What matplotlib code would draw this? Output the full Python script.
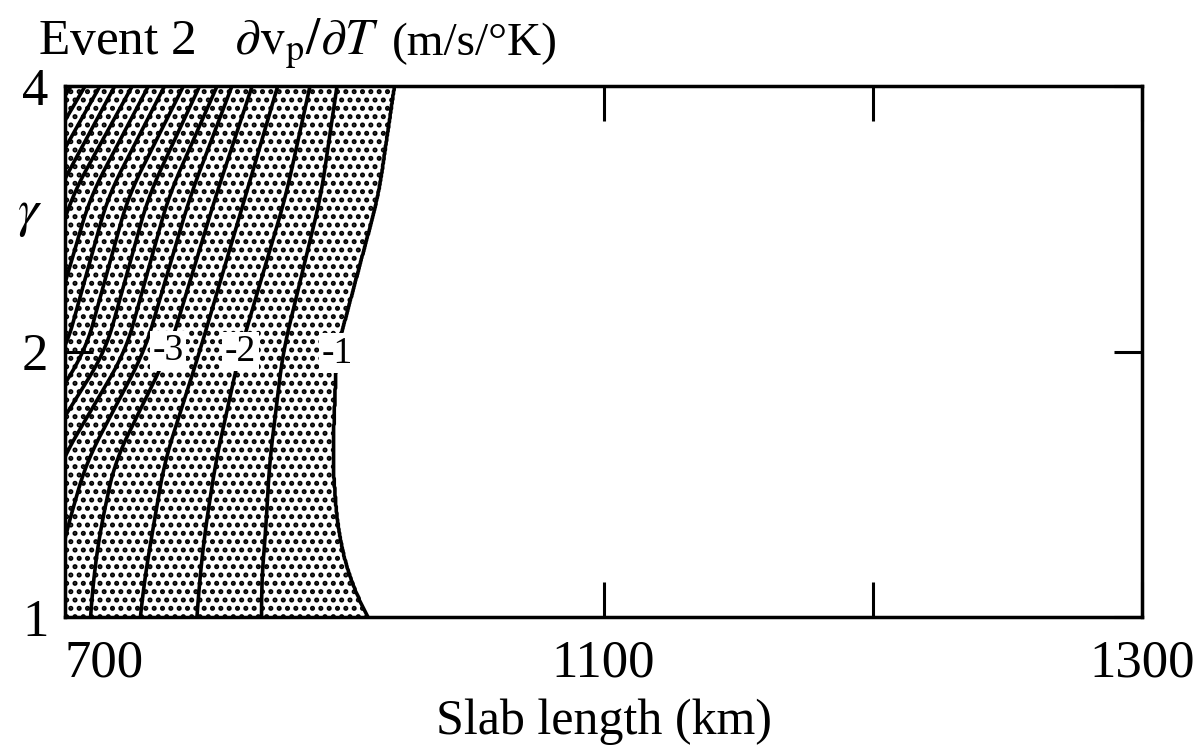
import numpy as np
import matplotlib.pyplot as plt
from matplotlib.ticker import FixedLocator, FixedFormatter, NullLocator

plt.rcParams['font.family'] = ['Liberation Serif', 'DejaVu Serif']
plt.rcParams['mathtext.fontset'] = 'stix'
plt.rcParams['hatch.linewidth'] = 2.4
plt.rcParams['hatch.color'] = 'black'

## contour levels of dVp/dT (m/s/K), lowest first
levels = [-8.5, -8.0, -7.5, -7.0, -6.5, -6.0, -5.5, -5.0,
          -4.5, -4.0, -3.5, -3.0, -2.5, -2.0, -1.5, -1.0]

## gamma values of the sampled rows
gamma_rows = [1.0, 1.1, 1.25, 1.5, 2.0, 3.0, 4.0]

## slab length (km) where each level crosses a row (same order as levels)
x_g1_00 = [435, 460, 485, 510, 535, 560, 585, 610, 635, 660, 685, 719, 756, 798, 846, 925]
x_g1_10 = [463, 486, 509, 532, 555, 578, 601, 624, 647, 670, 693, 721, 759, 800, 846, 912]
x_g1_25 = [501, 521, 541, 561, 581, 601, 621, 641, 661, 681, 701, 726, 765, 804, 849, 903]
x_g1_50 = [532, 551, 570, 588, 607, 626, 644, 663, 679, 697, 716, 737, 774, 812, 852, 899]
x_g2_00 = [611, 626, 641, 655, 670, 685, 700, 715, 730, 745, 759, 777, 800, 830, 862, 902]
x_g3_00 = [655, 667, 680, 693, 705, 719, 732, 747, 762, 777, 793, 812, 834, 864, 890, 933]
x_g4_00 = [704, 715, 726, 737, 750, 762, 774, 788, 800, 813, 824, 839, 858, 882, 902, 945]

label_levels = [-3.0, -2.0, -1.0]
label_x = [778, 830, 900]

## x axis: tick positions and where they sit along the axis
km_nodes = [700, 1100, 1300]
frac_nodes = [0.0, 0.5, 1.0]
x_ticks = [700, 1100, 1200, 1300]
x_ticklabels = ['700', '1100', '', '1300']
y_ticks = [1, 2, 4]


def forward(x):
    return np.interp(x, km_nodes, frac_nodes)


def inverse(f):
    return np.interp(f, frac_nodes, km_nodes)


def build_field():
    rows = np.array([x_g1_00, x_g1_10, x_g1_25, x_g1_50, x_g2_00, x_g3_00, x_g4_00], float)
    lg_rows = np.log2(gamma_rows)

    xg = np.linspace(700, 1300, 1201)
    gg = np.logspace(0, 2, 400, base=2)
    lg = np.log2(gg)

    ## crossing positions on the fine gamma grid, then a running mean
    ## along gamma to take the corners off the piecewise-linear rows
    xs_all = np.array([np.interp(lg, lg_rows, rows[:, k]) for k in range(len(levels))]).T
    w = 41
    kern = np.ones(w) / w
    padded = np.pad(xs_all, ((w // 2, w // 2), (0, 0)), mode='reflect', reflect_type='odd')
    xs_smooth = np.array([np.convolve(padded[:, k], kern, mode='valid')
                          for k in range(len(levels))]).T

    Z = np.empty((len(gg), len(xg)))
    for i in range(len(gg)):
        Z[i] = np.interp(xg, xs_smooth[i], levels, left=-9.0, right=-0.5)
    X, Y = np.meshgrid(xg, gg)
    return X, Y, Z


def main():
    X, Y, Z = build_field()

    fig = plt.figure(figsize=(11.98, 7.56), dpi=100)
    ax = fig.add_axes([65 / 1198, 1 - 617 / 756, 1077 / 1198, 531 / 756])

    ax.set_xscale('function', functions=(forward, inverse))
    ax.set_yscale('log', base=2)
    ax.set_xlim(700, 1300)
    ax.set_ylim(1, 4)

    ## stippled area where dVp/dT < -1
    ax.contourf(X, Y, Z, levels=[-20, -1], colors='none', hatches=['..'])

    plain = [v for v in levels if v not in label_levels]
    ax.contour(X, Y, Z, levels=plain, colors='black', linewidths=2.6,
               linestyles='solid')
    cs = ax.contour(X, Y, Z, levels=label_levels, colors='black', linewidths=2.6,
                    linestyles='solid')

    labels = ax.clabel(cs, fmt='%d', fontsize=27,
                       manual=[(x, 2.0) for x in label_x], inline=True, inline_spacing=2)
    for t in labels:
        t.set_rotation(0)
        t.set_bbox(dict(facecolor='white', edgecolor='none', pad=2))

    ax.xaxis.set_major_locator(FixedLocator(x_ticks))
    ax.xaxis.set_major_formatter(FixedFormatter(x_ticklabels))
    ax.xaxis.set_minor_locator(NullLocator())
    ax.yaxis.set_major_locator(FixedLocator(y_ticks))
    ax.yaxis.set_major_formatter(FixedFormatter([str(v) for v in y_ticks]))
    ax.yaxis.set_minor_locator(NullLocator())

    ax.tick_params(axis='x', direction='in', top=True, length=25, width=2.2,
                   labelsize=38, pad=16)
    ax.tick_params(axis='y', direction='in', right=True, length=20, width=2.2,
                   labelsize=38, pad=12)
    ax.get_xticklabels()[0].set_horizontalalignment('left')
    for s in ax.spines.values():
        s.set_linewidth(2.5)

    ax.set_xlabel('Slab length (km)', fontsize=36, labelpad=8)

    fig.text(38 / 1198, 1 - 55 / 756,
             r'Event 2   $\partial\mathrm{v}_\mathrm{p}/\partial T$',
             fontsize=37, ha='left', va='baseline')
    fig.text(392 / 1198, 1 - 55 / 756, '(m/s/°K)',
             fontsize=34, ha='left', va='baseline')
    fig.text(30 / 1198, 1 - 215 / 756, r'$\gamma$', fontsize=38, ha='center', va='center')

    fig.savefig('out.png', dpi=100)


if __name__ == "__main__":
    main()
